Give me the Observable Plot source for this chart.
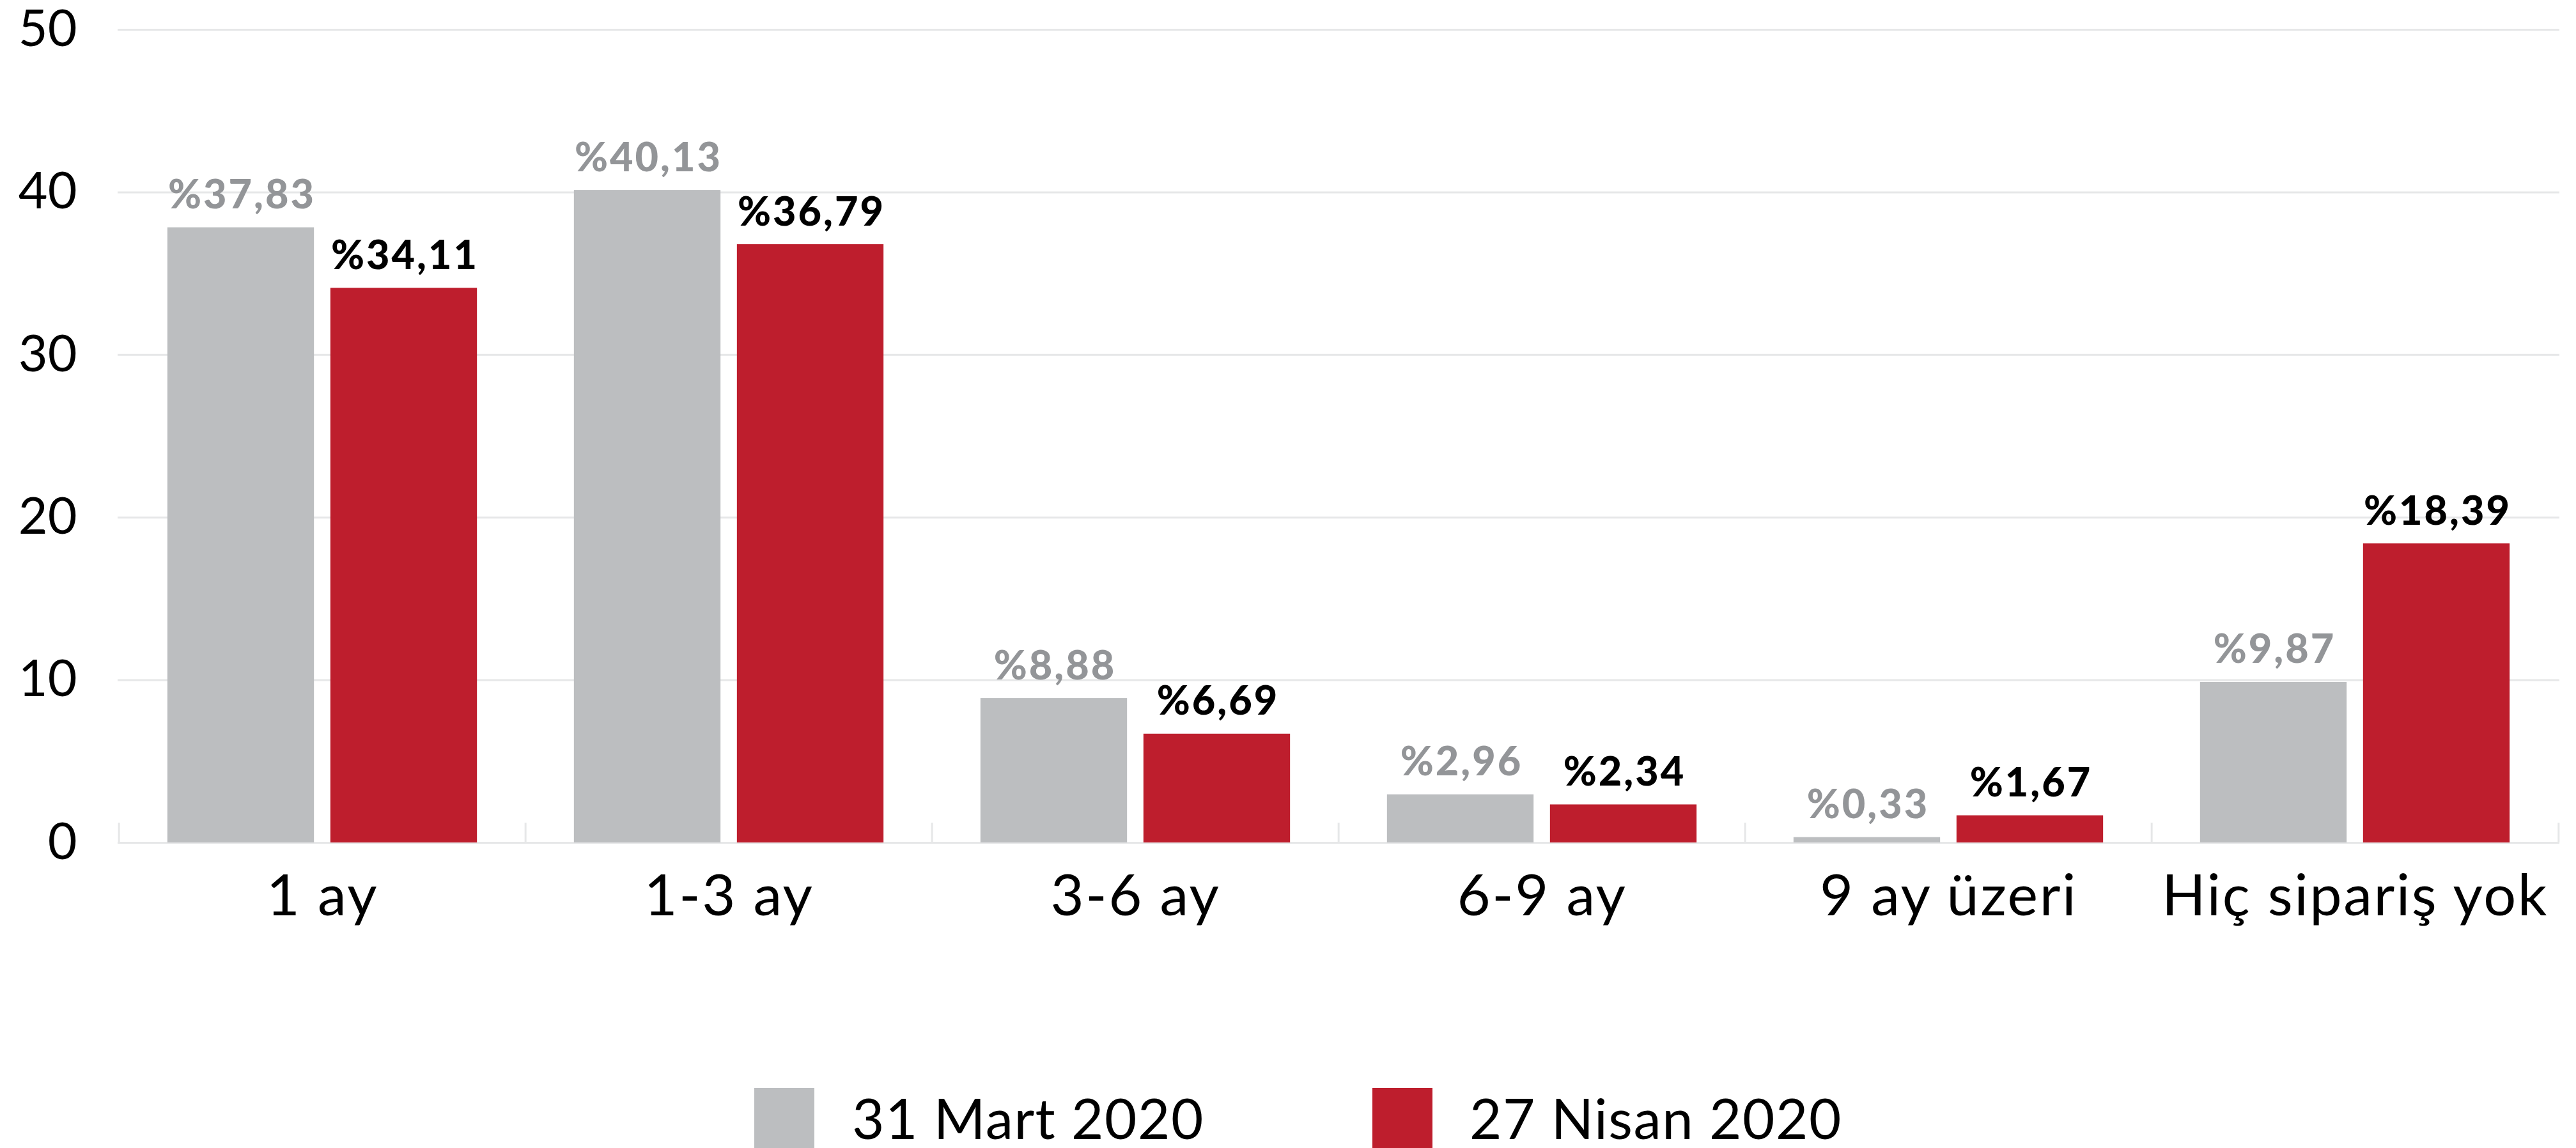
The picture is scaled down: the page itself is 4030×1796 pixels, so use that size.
<!DOCTYPE html>
<html>
<head>
<meta charset="utf-8">
<script src="https://cdn.jsdelivr.net/npm/d3@7"></script>
<script src="https://cdn.jsdelivr.net/npm/@observablehq/plot@0.6"></script>
<style>
  html, body { margin: 0; padding: 0; background: #fff; overflow: hidden; }
  body { width: 4030px; height: 1796px; font-family: Lato, "Noto Sans", sans-serif; }
  #chart svg { display: block; }
  #chart svg g[aria-label="x-axis tick label"] text { letter-spacing: 2.5px; }
  #chart svg g[aria-label="text"] text { letter-spacing: 3px; }
  .legend { position: relative; height: 116px; }
  .item { position: absolute; top: 22px; display: flex; align-items: center; height: 94px; }
  .swatch { width: 94px; height: 94px; flex: none; }
  .label { font-size: 87px; letter-spacing: 1.5px; color: #000; line-height: 94px; white-space: nowrap; }
</style>
</head>
<body>
<div id="chart"></div>
<div class="legend" id="legend"></div>
<script>
// ---- data ----
const categories = ["1 ay", "1-3 ay", "3-6 ay", "6-9 ay", "9 ay üzeri", "Hiç sipariş yok"];
const seriesNames = ["31 Mart 2020", "27 Nisan 2020"];
const mart2020 = [37.83, 40.13, 8.88, 2.96, 0.33, 9.87];
const nisan2020 = [34.11, 36.79, 6.69, 2.34, 1.67, 18.39];
const yTicks = [0, 10, 20, 30, 40, 50];

// ---- style / layout ----
const colors = {"31 Mart 2020": "#bcbec0", "27 Nisan 2020": "#be1e2d"};
const labelColors = {"31 Mart 2020": "#939598", "27 Nisan 2020": "#000000"};
const W = 4030, H = 1680, ML = 184, MR = 26, MT = 46, MB = 362;
const step = (W - ML - MR) / categories.length;
const barW = 230, gap = 25;
const outer = (step - 2 * barW - gap) / 2;
const gridColor = "#e6e7e8";

const rows = [];
categories.forEach((c, i) => {
  rows.push({cat: c, series: seriesNames[0], value: mart2020[i]});
  rows.push({cat: c, series: seriesNames[1], value: nisan2020[i]});
});
const fmt = v => "%" + d3.format(".2f")(v).replace(".", ",");
const s0 = rows.filter(d => d.series === seriesNames[0]);
const s1 = rows.filter(d => d.series === seriesNames[1]);

const chart = Plot.plot({
  width: W,
  height: H,
  marginLeft: ML,
  marginRight: MR,
  marginTop: MT,
  marginBottom: MB,
  style: {fontFamily: "Lato, 'Noto Sans', sans-serif", background: "#fff", color: "#000", overflow: "visible"},
  x: {type: "band", domain: categories, padding: 0},
  y: {domain: [0, 50]},
  marks: [
    Plot.gridY(yTicks, {stroke: gridColor, strokeOpacity: 1, strokeWidth: 3}),
    Plot.ruleX(categories, {x: d => d, dx: -step / 2, y1: 0, y2: 0, insetBottom: 31, stroke: gridColor, strokeWidth: 3}),
    Plot.ruleX(categories.slice(-1), {x: d => d, dx: step / 2, y1: 0, y2: 0, insetBottom: 31, stroke: gridColor, strokeWidth: 3}),
    Plot.barY(s0, {x: "cat", y: "value", fill: colors[seriesNames[0]], insetLeft: outer, insetRight: outer + barW + gap}),
    Plot.barY(s1, {x: "cat", y: "value", fill: colors[seriesNames[1]], insetLeft: outer + barW + gap, insetRight: outer}),
    Plot.text(s0, {x: "cat", y: "value", text: d => fmt(d.value), dx: -(barW + gap) / 2 + 1.5, dy: -30, lineAnchor: "bottom",
      fill: labelColors[seriesNames[0]], fontSize: 63, fontWeight: 900}),
    Plot.text(s1, {x: "cat", y: "value", text: d => fmt(d.value), dx: (barW + gap) / 2 + 1.5, dy: -30, lineAnchor: "bottom",
      fill: labelColors[seriesNames[1]], fontSize: 63, fontWeight: 900}),
    Plot.axisY({ticks: yTicks, tickSize: 0, tickPadding: 64, fontSize: 79, label: null}),
    Plot.axisX({tickSize: 0, tickPadding: 50, fontSize: 90, label: null})
  ]
});
document.getElementById("chart").appendChild(chart);

// ---- legend ----
const legend = document.getElementById("legend");
const legendPos = [1180, 2147];
seriesNames.forEach((s, i) => {
  const item = document.createElement("div");
  item.className = "item";
  item.style.left = legendPos[i] + "px";
  const sw = document.createElement("div");
  sw.className = "swatch";
  sw.style.background = colors[s];
  const lb = document.createElement("div");
  lb.className = "label";
  lb.style.marginLeft = (i === 0 ? 59 : 58) + "px";
  lb.textContent = s;
  item.appendChild(sw);
  item.appendChild(lb);
  legend.appendChild(item);
});
</script>
</body>
</html>
